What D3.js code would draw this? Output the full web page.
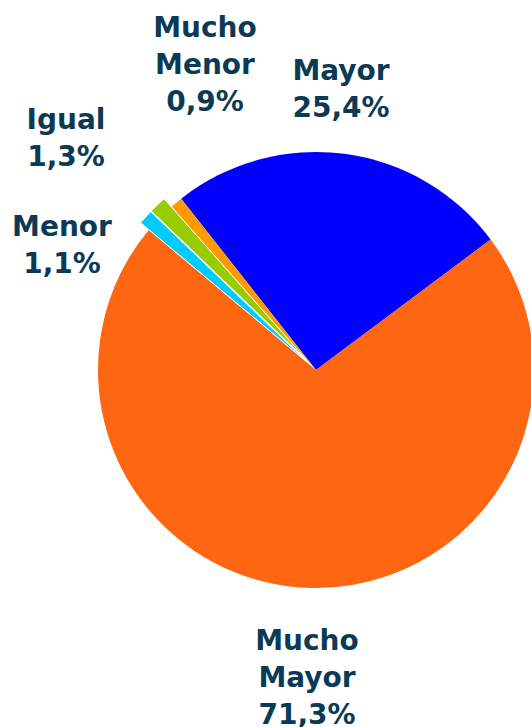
<!DOCTYPE html>
<html>
<head>
<meta charset="utf-8">
<script src="https://cdn.jsdelivr.net/npm/d3@7"></script>
<style>
  body { margin: 0; background: #fff; }
  svg { display: block; }
</style>
</head>
<body>
<svg id="chart" width="531" height="727"></svg>
<script>
// slices, clockwise from the blue one
const categories = ['Mayor', 'Mucho Mayor', 'Menor', 'Igual', 'Mucho Menor'];
const values = [25.4, 71.3, 1.1, 1.3, 0.9];
const colors = ['#0000ff', '#ff6611', '#00ccff', '#99cc00', '#ff9900'];
const exploded = [0, 0, 11, 11, 0];
const labelLines = [
  ['Mayor', '25,4%'],
  ['Mucho', 'Mayor', '71,3%'],
  ['Menor', '1,1%'],
  ['Igual', '1,3%'],
  ['Mucho', 'Menor', '0,9%']
];
// label anchor (centre x, first baseline y)
const labelPos = [[341, 80], [307, 650], [62, 236], [66, 129], [205, 37]];

const svg = d3.select('#chart');
const cx = 316, cy = 370, radius = 218;
const startAngle = -38.2 * Math.PI / 180;

const pie = d3.pie()
    .sort(null)
    .value(d => d)
    .startAngle(startAngle)
    .endAngle(startAngle + 2 * Math.PI);

const arc = d3.arc()
    .innerRadius(0)
    .outerRadius(radius);

const arcs = pie(values);

const g = svg.append('g')
    .attr('transform', `translate(${cx},${cy})`);

g.selectAll('path')
    .data(arcs)
    .enter()
    .append('path')
    .attr('d', arc)
    .attr('fill', (d, i) => colors[i])
    .attr('stroke', (d, i) => exploded[i] ? '#fff' : 'none')
    .attr('stroke-width', 1)
    .attr('transform', (d, i) => {
        const a = (d.startAngle + d.endAngle) / 2;
        return `translate(${Math.sin(a) * exploded[i]},${-Math.cos(a) * exploded[i]})`;
    });

const labels = svg.selectAll('text.lbl')
    .data(labelLines)
    .enter()
    .append('text')
    .attr('class', 'lbl')
    .attr('x', (d, i) => labelPos[i][0])
    .attr('y', (d, i) => labelPos[i][1])
    .attr('text-anchor', 'middle')
    .attr('font-family', 'DejaVu Sans, Verdana, sans-serif')
    .attr('font-weight', 'bold')
    .attr('font-size', 28)
    .attr('fill', '#0b3a56');

labels.each(function(lines, i) {
    d3.select(this).selectAll('tspan')
        .data(lines)
        .enter()
        .append('tspan')
        .attr('x', labelPos[i][0])
        .attr('dy', (d, j) => j === 0 ? 0 : 37)
        .text(d => d);
});
</script>
</body>
</html>
